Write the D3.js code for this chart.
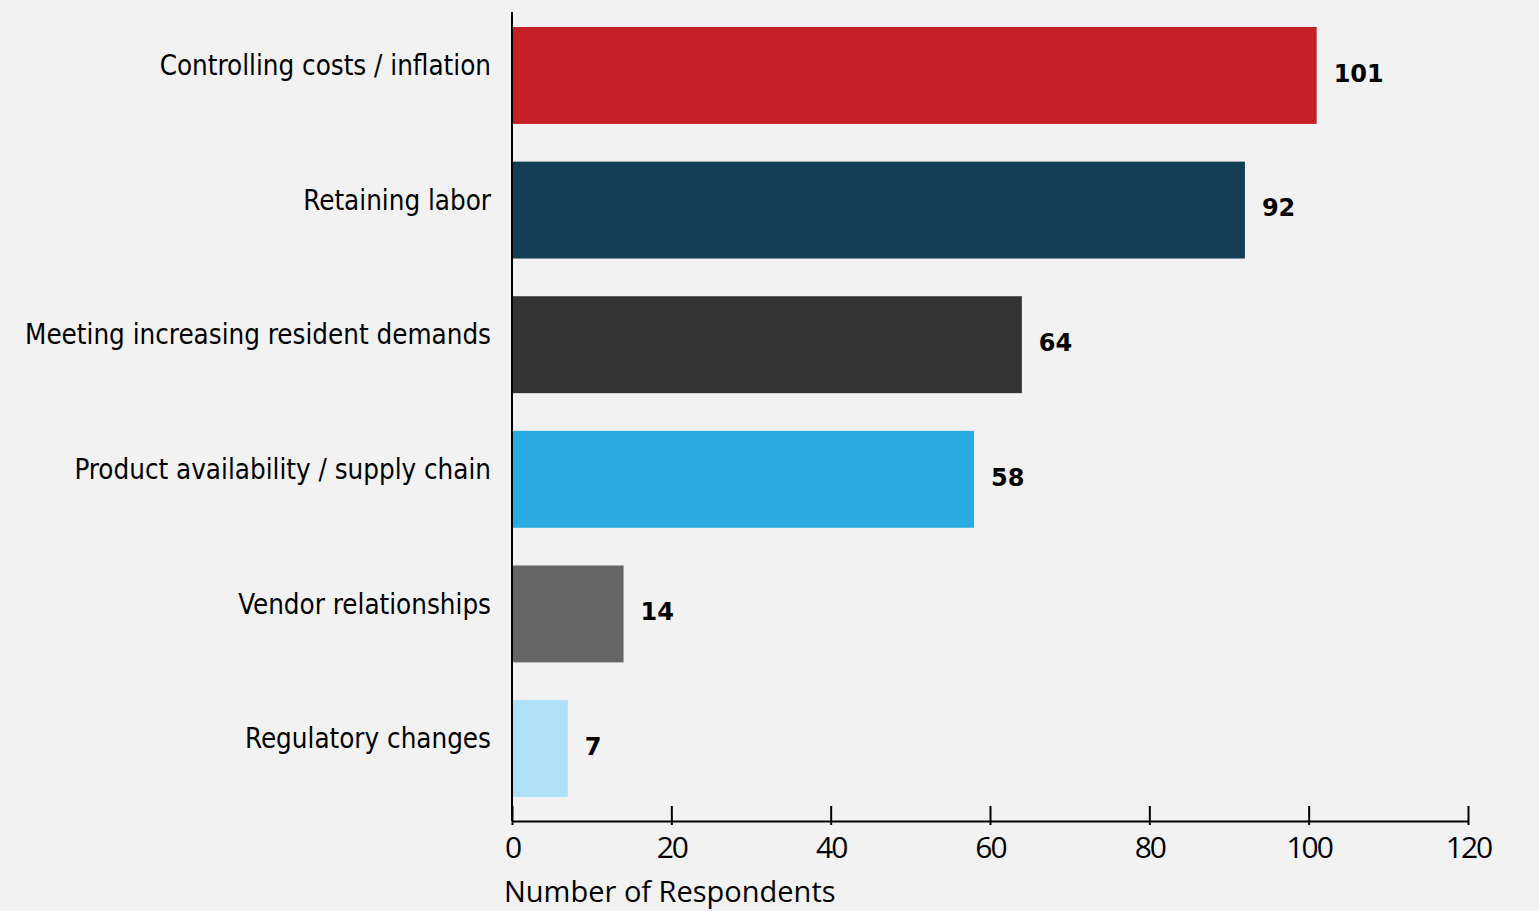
<!DOCTYPE html>
<html>
<head>
<meta charset="utf-8">
<script src="https://cdn.jsdelivr.net/npm/d3@7"></script>
<style>
  body { margin: 0; background: #f2f2f2; }
  svg { display: block; }
</style>
</head>
<body>
<div id="chart"></div>
<script>
const categories = [
  "Controlling costs / inflation",
  "Retaining labor",
  "Meeting increasing resident demands",
  "Product availability / supply chain",
  "Vendor relationships",
  "Regulatory changes"
];
const values = [101, 92, 64, 58, 14, 7];
const colors = ["#c42026", "#133c55", "#333333", "#29abe2", "#666666", "#aee0f7"];
const xTicks = [0, 20, 40, 60, 80, 100, 120];

const width = 1539;
const height = 911;
const margin = { top: 27, right: 71, bottom: 114, left: 512 };

const svg = d3.select("#chart")
  .append("svg")
  .attr("width", width)
  .attr("height", height);

const x = d3.scaleLinear()
  .domain([0, 120])
  .range([margin.left, width - margin.right]);

const y = d3.scaleBand()
  .domain(categories)
  .range([margin.top, height - margin.bottom])
  .paddingInner(0.28)
  .paddingOuter(0);

const data = categories.map((c, i) => ({ cat: c, value: values[i], color: colors[i] }));

// bars
svg.append("g")
  .selectAll("rect")
  .data(data)
  .join("rect")
  .attr("x", x(0))
  .attr("y", d => y(d.cat))
  .attr("width", d => x(d.value) - x(0))
  .attr("height", y.bandwidth())
  .attr("fill", d => d.color);

// value labels
svg.append("g")
  .selectAll("text")
  .data(data)
  .join("text")
  .attr("x", d => x(d.value) + 17)
  .attr("y", d => y(d.cat) + y.bandwidth() / 2 - 2)
  .attr("dy", "0.35em")
  .attr("font-family", "'DejaVu Sans', sans-serif")
  .attr("font-weight", "bold")
  .attr("font-size", 24)
  .attr("fill", "#000")
  .text(d => d.value);

// category labels
svg.append("g")
  .selectAll("text")
  .data(data)
  .join("text")
  .attr("x", margin.left - 21)
  .attr("y", d => y(d.cat) + y.bandwidth() / 2 - 10)
  .attr("dy", "0.35em")
  .attr("text-anchor", "end")
  .attr("font-family", "'DejaVu Sans Condensed', sans-serif")
  .attr("font-size", 27.5)
  .attr("fill", "#000")
  .text(d => d.cat);

// y axis line
svg.append("line")
  .attr("x1", x(0)).attr("x2", x(0))
  .attr("y1", 12).attr("y2", 821)
  .attr("stroke", "#000")
  .attr("stroke-width", 2);

// x axis
const xAxis = svg.append("g")
  .attr("transform", `translate(0,821)`)
  .call(d3.axisBottom(x).tickValues(xTicks).tickSize(0).tickPadding(16));
xAxis.select(".domain").attr("stroke", "#000").attr("stroke-width", 2);
xAxis.selectAll(".tick line").remove();
xAxis.selectAll(".tick").append("line")
  .attr("y1", -15).attr("y2", 4)
  .attr("stroke", "#000")
  .attr("stroke-width", 2);
xAxis.selectAll(".tick text")
  .attr("font-family", "'Open Sans', sans-serif")
  .attr("font-size", 30)
  .attr("letter-spacing", -2)
  .attr("fill", "#000");

// axis title
svg.append("text")
  .attr("x", 504)
  .attr("y", 902)
  .attr("font-family", "'Open Sans', sans-serif")
  .attr("font-size", 29)
  .attr("fill", "#000")
  .text("Number of Respondents");
</script>
</body>
</html>
